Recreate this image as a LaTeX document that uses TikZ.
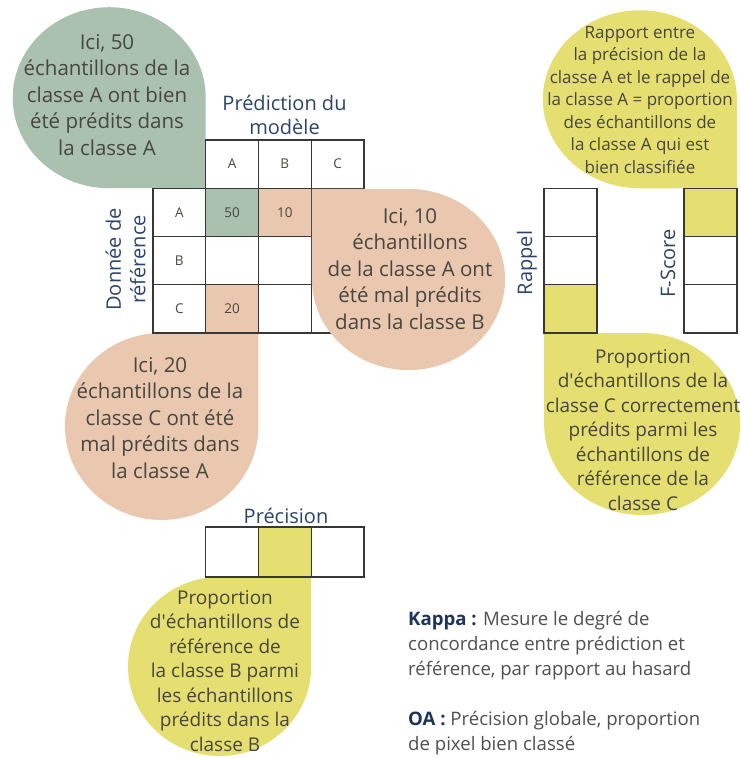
\documentclass[tikz,border=0pt]{standalone}
\usepackage{fontspec}
\setmainfont{Open Sans}
\usetikzlibrary{positioning,backgrounds}
\definecolor{sage}{RGB}{169,193,174}
\definecolor{peach}{RGB}{234,200,175}
\definecolor{lemon}{RGB}{229,222,112}
\definecolor{inkgray}{RGB}{72,70,64}
\definecolor{notegray}{RGB}{80,80,80}
\definecolor{gridgray}{RGB}{55,55,55}
\definecolor{labelblue}{RGB}{44,68,104}
\definecolor{kappablue}{RGB}{28,52,92}
\tikzset{
  cell/.style={draw=gridgray, line width=1.3pt, minimum width=52.75pt, minimum height=48.25pt,
               inner sep=0pt, outer sep=0pt, font=\fontsize{13.5}{15}\selectfont, text=inkgray},
  flatcell/.style={cell, minimum height=50pt},
  bubbletext/.style={align=center, text=inkgray, font=\fontsize{20.5}{26.5}\selectfont,
                     inner sep=0pt},
  smalltext/.style={bubbletext, font=\fontsize{17}{22.5}\selectfont},
  midtext/.style={bubbletext, font=\fontsize{19}{24.5}\selectfont},
  axislabel/.style={align=center, text=labelblue, font=\fontsize{20}{24.5}\selectfont,
                    inner sep=0pt},
  note/.style={align=left, text=notegray, font=\fontsize{18.6}{25}\selectfont, inner sep=0pt},
}

\begin{document}
\begin{tikzpicture}[x=1pt, y=1pt]
\useasboundingbox (0,0) rectangle (740,758);

% ============================ confusion matrix ========================
\node[cell] (hA) at (232.1,593.9) {A};
\node[cell, right=0pt of hA] (hB) {B};
\node[cell, right=0pt of hB] (hC) {C};

\node[cell, fill=sage, below=0pt of hA] (aA) {50};
\node[cell, left=0pt of aA] (rA) {A};
\node[cell, fill=peach, right=0pt of aA] (aB) {10};
\node[cell, right=0pt of aB] (aC) {};

\node[cell, below=0pt of aA] (bA) {};
\node[cell, left=0pt of bA] (rB) {B};
\node[cell, right=0pt of bA] (bB) {};
\node[cell, right=0pt of bB] (bC) {};

\node[cell, fill=peach, below=0pt of bA] (cA) {20};
\node[cell, left=0pt of cA] (rC) {C};
\node[cell, right=0pt of cA] (cB) {};
\node[cell, right=0pt of cB] (cC) {};

\node[axislabel] (pred) at (284.5,643) {Prédiction du\\modèle};
\node[axislabel, rotate=90] (ref) at (125.5,498.5) {Donnée de\\référence};

% ============================ recall / f-score / precision ============
\node[cell] (rap1) at (570.5,545.6) {};
\node[cell, below=0pt of rap1] (rap2) {};
\node[cell, fill=lemon, below=0pt of rap2] (rap3) {};
\node[axislabel, rotate=90] (raplabel) at (527,495) {Rappel};

\node[cell, fill=lemon] (fs1) at (710.5,545.6) {};
\node[cell, below=0pt of fs1] (fs2) {};
\node[cell, below=0pt of fs2] (fs3) {};
\node[axislabel, rotate=90] (fslabel) at (668,494.5) {F-Score};

\node[flatcell] (pr1) at (232.1,206) {};
\node[flatcell, fill=lemon, right=0pt of pr1] (pr2) {};
\node[flatcell, right=0pt of pr2] (pr3) {};
\node[axislabel] (prlabel) at (286,242) {Précision};

% bubbles behind the tables, each one with a square corner on its cell
\begin{scope}[on background layer]
  \fill[sage] (hA.south west) -- ++(0,90.5)
    arc[start angle=0, end angle=270, x radius=96.5, y radius=90.5] -- cycle;
  \fill[peach] (cA.south east) -- ++(-96.75,0)
    arc[start angle=90, end angle=360, x radius=96.75, y radius=93.5] -- cycle;
  \fill[lemon] (fs1.north east) -- ++(0,89)
    arc[start angle=0, end angle=270, x radius=97, y radius=89] -- cycle;
  \fill[lemon] (rap3.south west) -- ++(98,0)
    arc[start angle=90, end angle=-180, x radius=98, y radius=91] -- cycle;
  \fill[lemon] (pr2.south east) -- ++(-91.6,0)
    arc[start angle=90, end angle=360, x radius=91.6, y radius=89.5] -- cycle;
\end{scope}

% this one lies over column C of the matrix
\fill[peach] ([xshift=0.65pt, yshift=-0.65pt]aC.north west) -- ++(96.6,0)
  arc[start angle=90, end angle=-180, x radius=96.6, y radius=90.6] -- cycle;

% ============================ bubble texts ============================
\node[bubbletext] (t50) at (107,663)
  {Ici, 50\\échantillons de la\\classe A ont bien\\été prédits dans\\la classe A};
\node[bubbletext] (t10) at (410,489)
  {Ici, 10\\échantillons\\de la classe A ont\\été mal prédits\\dans la classe B};
\node[bubbletext] (t20) at (160,340)
  {Ici, 20\\échantillons de la\\classe C ont été\\mal prédits dans\\la classe A};
\node[smalltext] (tfs) at (640,658)
  {Rapport entre\\la précision de la\\classe A et le rappel de\\la classe A = proportion\\des échantillons de\\la classe A qui est\\bien classifiée};
\node[midtext] (trap) at (643,328)
  {Proportion\\d\textquotesingle échantillons de la\\classe C correctement\\prédits parmi les\\échantillons de\\référence de la\\classe C};
\node[midtext] (tpr) at (225,87)
  {Proportion\\d\textquotesingle échantillons de\\référence de\\la classe B parmi\\les échantillons\\prédits dans la\\classe B};

% ============================ definitions =============================
\node[note, anchor=west] (kappa) at (408,112)
  {\textcolor{kappablue}{\textbf{Kappa :}} Mesure le degré de\\concordance entre prédiction et\\référence, par rapport au hasard};
\node[note, anchor=west] (oa) at (408,24.5)
  {\textcolor{kappablue}{\textbf{OA :}} Précision globale, proportion\\de pixel bien classé};

\end{tikzpicture}
\end{document}
